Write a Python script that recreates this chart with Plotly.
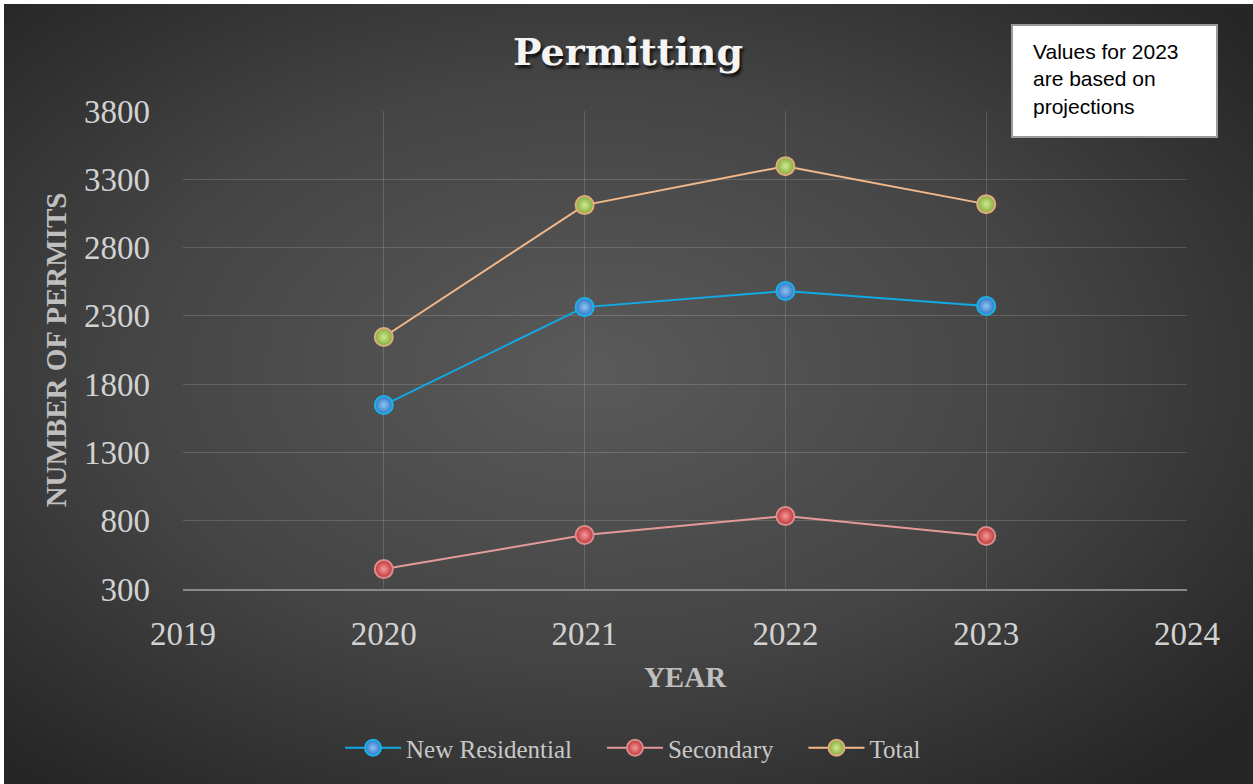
import base64
import plotly.graph_objects as go

years = [2020, 2021, 2022, 2023]
new_residential = [1647, 2364, 2482, 2372]
secondary = [446, 695, 834, 688]
total = [2145, 3111, 3396, 3118]
y_ticks = [300, 800, 1300, 1800, 2300, 2800, 3300, 3800]
x_ticks = [2019, 2020, 2021, 2022, 2023, 2024]
note_lines = ["Values for 2023", "are based on", "projections"]

W, H = 1253, 784
L, R, T, B = 183, 66, 111, 195
pw, ph = W - L - R, H - T - B

svg = '''<svg xmlns="http://www.w3.org/2000/svg" width="1249" height="780" viewBox="0 0 1249 780" preserveAspectRatio="none">
<defs><radialGradient id="g" cx="0.47" cy="0.47" r="0.68">
<stop offset="0" stop-color="#5a5a5a"/><stop offset="0.55" stop-color="#444444"/><stop offset="1" stop-color="#262626"/></radialGradient></defs>
<rect width="1249" height="780" fill="url(#g)"/></svg>'''
src = "data:image/svg+xml;base64," + base64.b64encode(svg.encode()).decode()


def px_x(p):
    return (p - L) / pw


def px_y(p):
    return (H - B - p) / ph


fig = go.Figure()

series = [
    ("New Residential", new_residential, "#12a9e4", "#3174c4", "#8cc4f2", "#19b4ec", "\u2003"),
    ("Secondary", secondary, "#e59a9a", "#bf3236", "#f49a9a", "#d98e8e", "\u2003"),
    ("Total", total, "#f4b98a", "#82ad3c", "#cfe88e", "#e2ab7c", ""),
]
for name, vals, lc, mc, gc, mlc, pad in series:
    fig.add_trace(go.Scatter(
        x=years, y=vals, name=name + pad, mode="lines+markers",
        line=dict(color=lc, width=2),
        marker=dict(size=18, color=mc, gradient=dict(type="radial", color=gc),
                    line=dict(color=mlc, width=2)),
    ))

tick_font = dict(family="Liberation Serif", size=33, color="#d2d2d2")
title_font = dict(family="Liberation Serif", size=29, color="#bfbfbf", weight="bold")
grid = "rgba(255,255,255,0.15)"

fig.update_layout(
    width=W, height=H,
    margin=dict(l=L, r=R, t=T, b=B),
    paper_bgcolor="white",
    plot_bgcolor="rgba(0,0,0,0)",
    images=[dict(source=src, xref="paper", yref="paper",
                 x=px_x(4), y=px_y(4), sizex=(W - 4) / pw, sizey=(H - 4) / ph,
                 xanchor="left", yanchor="top", sizing="stretch", layer="below")],
    title=dict(text="Permitting", xref="container", yref="container",
               x=628 / W, xanchor="center", y=1 - 52 / H, yanchor="middle",
               font=dict(family="DejaVu Serif", size=38, color="#f4f4f4", weight="bold",
                         shadow="2px 3px 3px rgba(0,0,0,0.8)")),
    xaxis=dict(range=[2019, 2024], tickvals=x_ticks, ticktext=[str(v) for v in x_ticks],
               showgrid=True, gridcolor=grid, gridwidth=1, zeroline=False,
               showline=True, linecolor="#8a8a8a", linewidth=2,
               tickfont=tick_font, ticklabelstandoff=14,
               title=dict(text="YEAR", font=title_font, standoff=16)),
    yaxis=dict(range=[300, 3800], tickvals=y_ticks, ticktext=[str(v) for v in y_ticks],
               showgrid=True, gridcolor=grid, gridwidth=1, zeroline=False,
               showline=False, tickfont=tick_font, ticklabelstandoff=32,
               title=dict(text="NUMBER OF PERMITS", font=title_font, standoff=8)),
    legend=dict(orientation="h", x=px_x(633), xanchor="center", y=px_y(748), yanchor="middle",
                font=dict(family="Liberation Serif", size=25, color="#c8c8c8"),
                bgcolor="rgba(0,0,0,0)", itemwidth=56),
    showlegend=True,
    shapes=[dict(type="rect", xref="paper", yref="paper",
                 x0=px_x(1012), x1=px_x(1217), y0=px_y(25), y1=px_y(137),
                 fillcolor="white", line=dict(color="#9a9a9a", width=2), layer="above")],
    annotations=[dict(text="<br>".join(note_lines),
                      xref="paper", yref="paper", x=px_x(1031), y=px_y(79),
                      xanchor="left", yanchor="middle", align="left",
                      showarrow=False,
                      font=dict(family="Liberation Sans", size=21, color="black"))],
)

fig.write_html("out.html")
